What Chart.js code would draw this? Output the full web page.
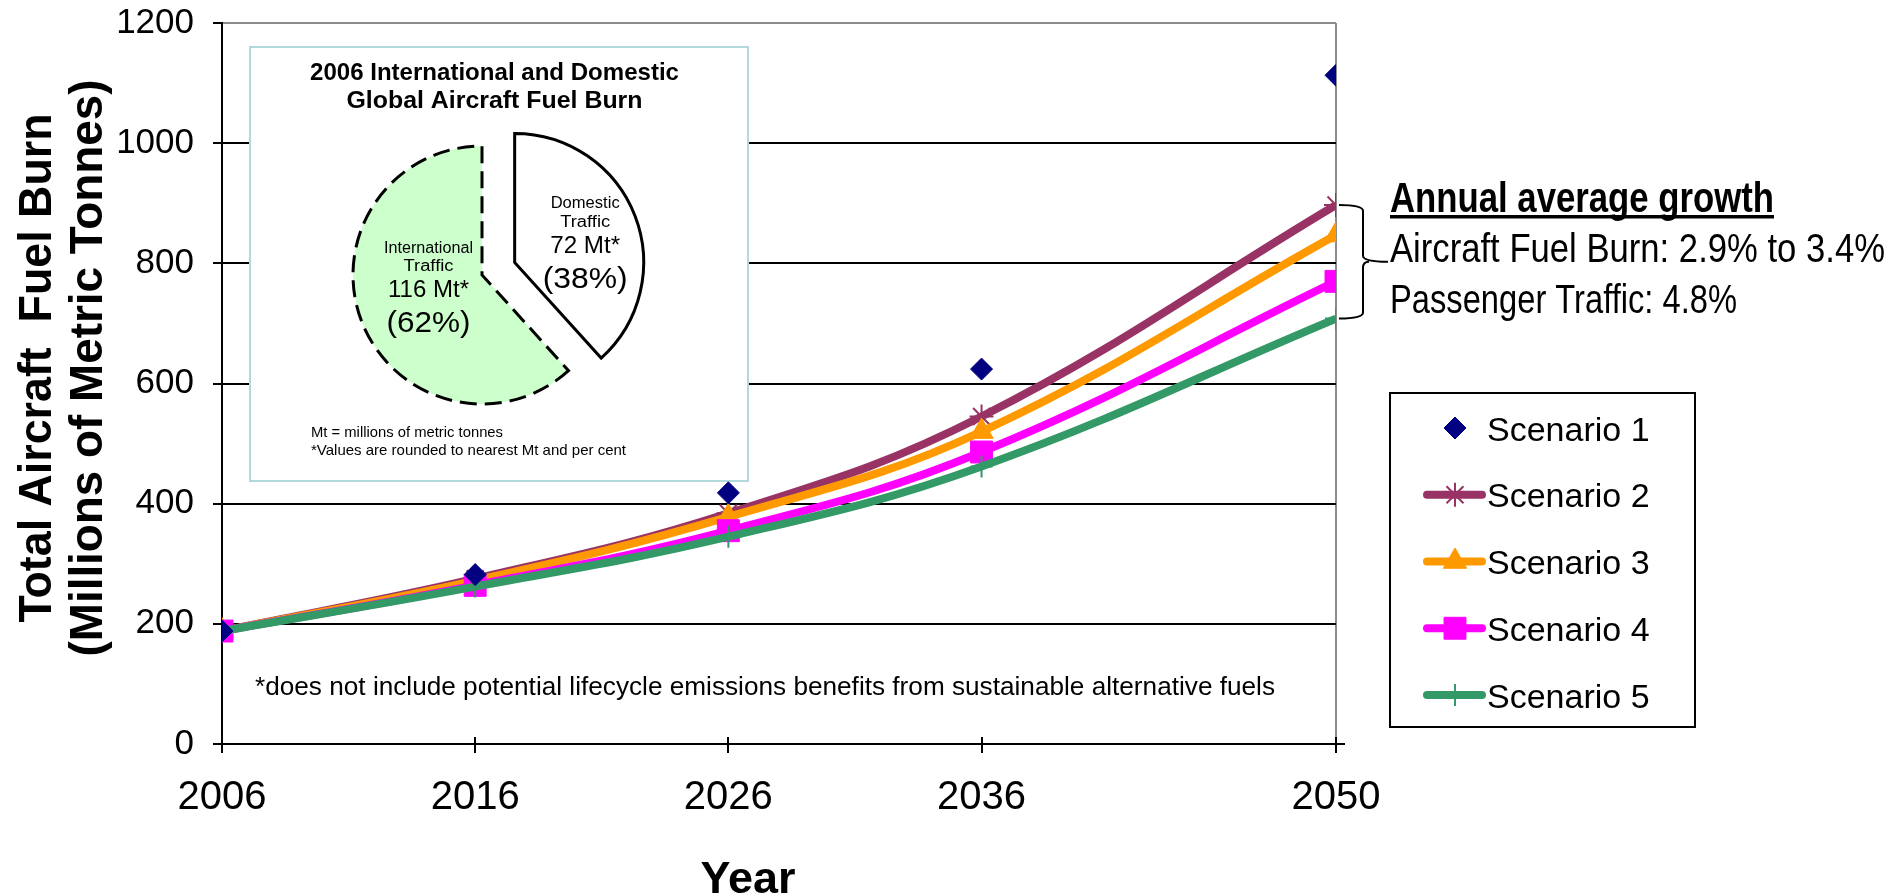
<!DOCTYPE html>
<html>
<head>
<meta charset="utf-8">
<title>Total Aircraft Fuel Burn</title>
<script src="https://cdn.jsdelivr.net/npm/chart.js"></script>
<style>
  html, body { margin: 0; padding: 0; background: #fff; }
  #wrap { position: relative; width: 1892px; height: 896px; overflow: hidden; }
  #fuelChart { position: absolute; left: 0; top: 0; }
  #pieChart { position: absolute; left: 302px; top: 95px; }
</style>
</head>
<body>
<div id="wrap">
  <canvas id="fuelChart" width="1892" height="896"></canvas>
  <canvas id="pieChart" width="360" height="360"></canvas>
</div>
<script>
// fuel burn, millions of metric tonnes
const years = [2006, 2016, 2026, 2036, 2050];
const scenarioNames = ['Scenario 1', 'Scenario 2', 'Scenario 3', 'Scenario 4', 'Scenario 5'];
const scenario1 = [188, 282, 418, 624, 1113];
const scenario2 = [188, 275, 384, 545, 897];
const scenario3 = [188, 272, 378, 520, 847];
const scenario4 = [188, 264, 355, 486, 770];
const scenario5 = [188, 262, 345, 462, 708];
const yTicks = [0, 200, 400, 600, 800, 1000, 1200];

// 2006 split
const pieLabels = ['Domestic Traffic', 'International Traffic'];
const pieValues = [72, 116];

const growthTitle = 'Annual average growth';
const growthLines = ['Aircraft Fuel Burn: 2.9% to 3.4%', 'Passenger Traffic: 4.8%'];

const FONT = "'Liberation Sans', Arial, Helvetica, sans-serif";
const NARROW = "'Liberation Sans Narrow', 'Liberation Sans', Arial, sans-serif";

const styles = [
  { color: '#000080', pointStyle: 'rectRot', pointRadius: 11, pointBorderWidth: 1, showLine: false, order: 0 },
  { color: '#993366', pointStyle: 'star', pointRadius: 12, pointBorderWidth: 2, showLine: true, order: 4 },
  { color: '#FF9900', pointStyle: 'triangle', pointRadius: 13.5, pointBorderWidth: 1, showLine: true, order: 3 },
  { color: '#FF00FF', pointStyle: 'rect', pointRadius: 15.5, pointBorderWidth: 1, showLine: true, order: 2 },
  { color: '#339966', pointStyle: 'cross', pointRadius: 11, pointBorderWidth: 2, showLine: true, order: 1 }
];

const seriesValues = [scenario1, scenario2, scenario3, scenario4, scenario5];

// stretch/squeeze a string to a given width
function fitText(ctx, text, x, y, width, align) {
  const w = ctx.measureText(text).width;
  const left = align === 'center' ? x - width / 2 : x;
  ctx.save();
  ctx.translate(left, y);
  ctx.scale(width / w, 1);
  ctx.textAlign = 'left';
  ctx.fillText(text, 0, 0);
  ctx.restore();
}

const extras = {
  id: 'extras',
  beforeDatasetsDraw(chart) {
    const ctx = chart.ctx;
    // inset panel
    ctx.save();
    ctx.fillStyle = '#fff';
    ctx.fillRect(250, 47, 498, 434);
    ctx.strokeStyle = '#b3d9de';
    ctx.lineWidth = 2;
    ctx.strokeRect(250, 47, 498, 434);
    ctx.fillStyle = '#000';
    ctx.textBaseline = 'alphabetic';
    ctx.font = 'bold 24px ' + FONT;
    fitText(ctx, '2006 International and Domestic', 494.5, 80, 369, 'center');
    fitText(ctx, 'Global Aircraft Fuel Burn', 494.5, 108, 296, 'center');
    ctx.font = '15px ' + FONT;
    fitText(ctx, 'Mt = millions of metric tonnes', 311, 437, 192);
    fitText(ctx, '*Values are rounded to nearest Mt and per cent', 311, 455, 315);
    ctx.restore();
  },
  afterDraw(chart) {
    const ctx = chart.ctx;
    const xs = chart.scales.x, ys = chart.scales.y;
    const area = chart.chartArea;
    ctx.save();

    // x ticks cross the axis line
    ctx.strokeStyle = '#000';
    ctx.lineWidth = 2;
    ctx.beginPath();
    years.forEach(v => {
      const px = Math.round(xs.getPixelForValue(v));
      ctx.moveTo(px, area.bottom - 7);
      ctx.lineTo(px, area.bottom);
    });
    ctx.moveTo(area.right, area.bottom);
    ctx.lineTo(area.right + 9, area.bottom);
    ctx.stroke();

    ctx.fillStyle = '#000';
    ctx.textBaseline = 'alphabetic';

    // axis titles
    ctx.font = 'bold 46px ' + FONT;
    ctx.save();
    ctx.translate(51, 368);
    ctx.rotate(-Math.PI / 2);
    fitText(ctx, 'Total Aircraft  Fuel Burn', 0, 0, 509, 'center');
    ctx.restore();
    ctx.save();
    ctx.translate(102, 368);
    ctx.rotate(-Math.PI / 2);
    fitText(ctx, '(Millions of Metric Tonnes)', 0, 0, 577, 'center');
    ctx.restore();

    ctx.font = 'bold 44px ' + FONT;
    fitText(ctx, 'Year', 748, 893, 95, 'center');

    // footnote
    ctx.font = '25px ' + FONT;
    fitText(ctx, '*does not include potential lifecycle emissions benefits from sustainable alternative fuels', 255, 695, 1020);

    // brace spanning the scenario 2-5 end values
    const last = years.length - 1;
    const ends = seriesValues.slice(1).map(s => ys.getPixelForValue(s[last]));
    const top = Math.min(...ends), bot = Math.max(...ends), mid = (top + bot) / 2;
    const x0 = xs.getPixelForValue(years[last]) + 3, xm = x0 + 24, xt = x0 + 49, r = 6;
    ctx.lineWidth = 2;
    ctx.beginPath();
    ctx.moveTo(x0, top);
    ctx.quadraticCurveTo(xm, top, xm, top + r);
    ctx.lineTo(xm, mid - r);
    ctx.quadraticCurveTo(xm, mid, xt, mid);
    ctx.moveTo(xm + r, mid);
    ctx.quadraticCurveTo(xm, mid, xm, mid + r);
    ctx.lineTo(xm, bot - r);
    ctx.quadraticCurveTo(xm, bot, x0, bot);
    ctx.stroke();

    // growth note
    ctx.font = 'bold 42px ' + NARROW;
    fitText(ctx, growthTitle, 1390, 212, 384);
    ctx.fillRect(1390, 215, 384, 3.5);
    ctx.font = '41px ' + NARROW;
    fitText(ctx, growthLines[0], 1390, 262, 495);
    fitText(ctx, growthLines[1], 1390, 313, 347);

    // legend
    ctx.strokeStyle = '#000';
    ctx.lineWidth = 2;
    ctx.strokeRect(1390, 393, 305, 334);
    ctx.font = '34px ' + FONT;
    chart.data.datasets.forEach((ds, i) => {
      const y = 428 + i * 66.75;
      if (ds.showLine) {
        ctx.strokeStyle = ds.borderColor;
        ctx.lineWidth = 8;
        ctx.lineCap = 'round';
        ctx.beginPath();
        ctx.moveTo(1427, y);
        ctx.lineTo(1482, y);
        ctx.stroke();
      }
      ctx.fillStyle = ds.pointBackgroundColor;
      ctx.strokeStyle = ds.pointBorderColor;
      ctx.lineWidth = ds.pointBorderWidth;
      ctx.lineCap = 'butt';
      Chart.helpers.drawPoint(ctx, {
        pointStyle: ds.pointStyle, radius: ds.pointRadius,
        borderWidth: ds.pointBorderWidth, rotation: 0
      }, 1455, y);
      ctx.fillStyle = '#000';
      ctx.fillText(ds.label, 1487, y + 12.5);
    });
    ctx.restore();
  }
};

new Chart(document.getElementById('fuelChart'), {
  type: 'line',
  data: {
    datasets: seriesValues.map((vals, i) => ({
      label: scenarioNames[i],
      data: years.map((x, j) => ({ x: x, y: vals[j] })),
      showLine: styles[i].showLine,
      borderColor: styles[i].color,
      backgroundColor: styles[i].color,
      borderWidth: 8,
      tension: 0.4,
      fill: false,
      pointStyle: styles[i].pointStyle,
      pointRadius: styles[i].pointRadius,
      pointBorderWidth: styles[i].pointBorderWidth,
      pointBackgroundColor: styles[i].color,
      pointBorderColor: styles[i].color,
      order: styles[i].order
    }))
  },
  options: {
    responsive: false,
    devicePixelRatio: 1,
    animation: false,
    events: [],
    layout: { padding: { top: 23, right: 556, left: 0, bottom: 0 } },
    plugins: { legend: { display: false }, tooltip: { enabled: false } },
    scales: {
      x: {
        type: 'linear',
        min: years[0],
        max: years[years.length - 1],
        afterBuildTicks: scale => { scale.ticks = years.map(v => ({ value: v })); },
        afterFit: scale => { scale.height = 152; },
        border: { color: '#000', width: 2 },
        grid: {
          color: c => (c.tick && c.tick.value === years[years.length - 1]) ? '#8c8c8c' : 'rgba(0,0,0,0)',
          tickColor: '#000',
          tickLength: 9,
          lineWidth: 2
        },
        ticks: {
          color: '#000',
          font: { family: FONT, size: 40 },
          padding: 21,
          maxRotation: 0,
          autoSkip: false,
          callback: v => String(v)
        }
      },
      y: {
        min: yTicks[0],
        max: yTicks[yTicks.length - 1],
        afterBuildTicks: scale => { scale.ticks = yTicks.map(v => ({ value: v })); },
        afterFit: scale => {
          scale.width = 222;
          // labels may overhang; keep the plot edge where it is
          scale.paddingTop = 0;
          scale.paddingBottom = 0;
        },
        border: { color: '#000', width: 2 },
        grid: {
          color: c => (c.tick && c.tick.value === yTicks[yTicks.length - 1]) ? '#8c8c8c' : '#000',
          tickColor: '#000',
          tickLength: 9,
          lineWidth: 2
        },
        ticks: {
          color: '#000',
          font: { family: FONT, size: 35 },
          padding: 19,
          callback: v => String(v)
        }
      }
    }
  },
  plugins: [extras]
});

// pull the domestic slice out of the pie
const explode = {
  id: 'explode',
  afterDatasetsUpdate(chart) {
    const arc = chart.getDatasetMeta(0).data[0];
    const a = (arc.startAngle + arc.endAngle) / 2;
    arc.x += Math.cos(a) * 35;
    arc.y += Math.sin(a) * 35;
  }
};

const sliceText = {
  id: 'sliceText',
  afterDatasetsDraw(chart) {
    const ctx = chart.ctx;
    const total = pieValues.reduce((a, b) => a + b, 0);
    // text offsets from each slice's centre point
    const spots = [
      { dx: 70.5, name: [-54, -35], val: -9, pct: 26, nameW: [69, 50], valW: 70, pctW: 85 },
      { dx: -53.5, name: [-22.3, -4.3], val: 21.7, pct: 56.7, nameW: [89, 50], valW: 81, pctW: 84 }
    ];
    ctx.save();
    ctx.fillStyle = '#000';
    ctx.textBaseline = 'alphabetic';
    chart.getDatasetMeta(0).data.forEach((arc, i) => {
      const s = spots[i];
      const cx = arc.x + s.dx;
      const words = pieLabels[i].split(' ');
      ctx.font = '16px ' + FONT;
      words.forEach((w, k) => fitText(ctx, w, cx, arc.y + s.name[k], s.nameW[k], 'center'));
      ctx.font = '23px ' + FONT;
      fitText(ctx, pieValues[i] + ' Mt*', cx, arc.y + s.val, s.valW, 'center');
      ctx.font = '30px ' + FONT;
      fitText(ctx, '(' + Math.round(pieValues[i] / total * 100) + '%)', cx, arc.y + s.pct, s.pctW, 'center');
    });
    ctx.restore();
  }
};

new Chart(document.getElementById('pieChart'), {
  type: 'pie',
  data: {
    labels: pieLabels,
    datasets: [{
      data: pieValues,
      backgroundColor: ['#ffffff', '#ccffcc'],
      borderColor: '#000',
      borderWidth: 3,
      borderAlign: 'center',
      borderJoinStyle: 'miter',
      borderDash: c => c.dataIndex === 1 ? [17, 8] : []
    }]
  },
  options: {
    responsive: false,
    devicePixelRatio: 1,
    animation: false,
    events: [],
    radius: 129,
    layout: { padding: 0 },
    plugins: { legend: { display: false }, tooltip: { enabled: false } }
  },
  plugins: [explode, sliceText]
});
</script>
</body>
</html>
